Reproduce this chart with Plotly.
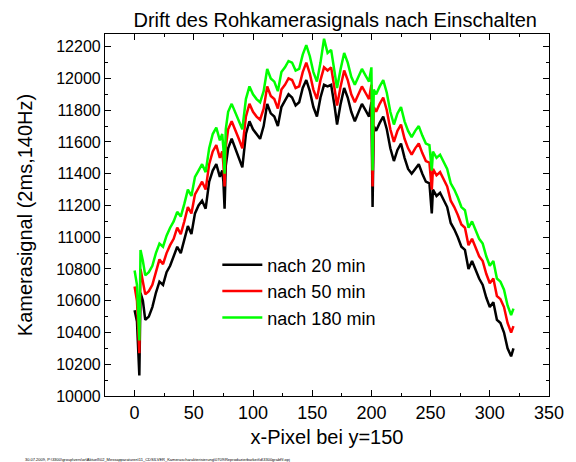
import plotly.graph_objects as go

x_pixel = [0, 2, 4, 5, 7, 9, 12, 15, 18, 21, 24, 27, 30, 33, 36, 39, 42, 45, 48, 51,
           54, 57, 60, 63, 66, 69, 72, 74, 75, 76, 77, 79, 82, 85, 88, 91, 94, 97, 100, 103,
           106, 109, 112, 115, 118, 121, 124, 127, 130, 133, 136, 139, 142, 145, 148, 151, 154, 157, 160, 163,
           166, 169, 171, 174, 177, 180, 183, 186, 189, 192, 195, 198, 200, 201, 202, 204, 207, 210, 213, 216,
           219, 222, 225, 228, 231, 234, 237, 240, 243, 246, 249, 251, 252, 255, 258, 261, 264, 267, 270, 273,
           276, 279, 282, 285, 288, 291, 294, 297, 300, 303, 306, 309, 312, 315, 318, 320]

nach_20 = [10540, 10470, 10130, 10650, 10600, 10480, 10500, 10560, 10650, 10720, 10700, 10780, 10820, 10880, 10940, 10900, 10980, 11070, 11020, 11150,
           11200, 11230, 11180, 11350, 11420, 11460, 11380, 11420, 11350, 11180, 11450, 11560, 11620, 11560, 11500, 11440, 11650, 11730, 11680, 11650,
           11620, 11700, 11840, 11780, 11760, 11700, 11820, 11860, 11900, 11880, 11830, 11850, 11940, 11990, 11920, 11820, 11760, 11880, 11960, 11950,
           11960, 11820, 11710, 11840, 11940, 11880, 11790, 11730, 11790, 11840, 11800, 11760, 11850, 11190, 11700, 11670, 11720, 11760, 11680, 11560,
           11480, 11550, 11590, 11500, 11430, 11400, 11430, 11460, 11400, 11350, 11340, 11150, 11300, 11260, 11280, 11230, 11190, 11090, 11050, 11000,
           10940, 10920, 10800, 10850, 10790, 10740, 10700, 10620, 10560, 10590, 10480, 10460, 10400, 10300, 10250, 10300]

nach_50 = [10690, 10600, 10270, 10800, 10720, 10640, 10660, 10700, 10780, 10860, 10830, 10900, 10950, 10990, 11060, 11020, 11100, 11190, 11150, 11270,
           11310, 11350, 11300, 11460, 11540, 11580, 11500, 11540, 11460, 11320, 11570, 11680, 11730, 11680, 11620, 11560, 11760, 11840, 11790, 11760,
           11740, 11810, 11950, 11890, 11870, 11810, 11930, 11960, 12000, 11990, 11940, 11950, 12040, 12100, 12030, 11930, 11870, 11990, 12070, 12050,
           12070, 11930, 11830, 11950, 12050, 11990, 11900, 11850, 11900, 11950, 11910, 11870, 11960, 11320, 11820, 11790, 11840, 11880, 11800, 11680,
           11600, 11670, 11710, 11620, 11560, 11520, 11560, 11590, 11530, 11480, 11470, 11300, 11430, 11390, 11410, 11360, 11320, 11230, 11190, 11140,
           11080, 11060, 10950, 10990, 10940, 10880, 10850, 10770, 10710, 10740, 10630, 10610, 10560, 10460, 10400, 10440]

nach_180 = [10790, 10700, 10350, 10920, 10850, 10760, 10780, 10820, 10900, 10960, 10940, 11010, 11060, 11100, 11160, 11130, 11210, 11300, 11260, 11380,
            11420, 11460, 11410, 11560, 11650, 11690, 11610, 11650, 11560, 11400, 11680, 11790, 11840, 11790, 11730, 11680, 11870, 11950, 11900, 11870,
            11850, 11920, 12060, 12000, 11980, 11920, 12040, 12070, 12110, 12100, 12050, 12060, 12150, 12210, 12140, 12040, 11980, 12100, 12250, 12160,
            12180, 12040, 11940, 12060, 12160, 12100, 12010, 11960, 12010, 12060, 12020, 11980, 12070, 11420, 11930, 11900, 11950, 11990, 11910, 11790,
            11710, 11780, 11820, 11730, 11670, 11630, 11670, 11700, 11640, 11590, 11580, 11420, 11540, 11500, 11520, 11470, 11430, 11340, 11300, 11250,
            11190, 11170, 11060, 11100, 11050, 10990, 10960, 10880, 10820, 10850, 10740, 10720, 10670, 10570, 10510, 10550]

series_names = ["nach 20 min", "nach 50 min", "nach 180 min"]
series_colors = ["#000000", "#ff0000", "#00ff00"]

x_ticks = [0, 50, 100, 150, 200, 250, 300, 350]
y_ticks = [10000, 10200, 10400, 10600, 10800, 11000, 11200, 11400, 11600, 11800, 12000, 12200]

font_family = "Liberation Sans, Arial, sans-serif"

fig = go.Figure()
for name, ys, col in zip(series_names, [nach_20, nach_50, nach_180], series_colors):
    fig.add_trace(go.Scatter(x=x_pixel, y=ys, mode="lines", name=name,
                             line=dict(color=col, width=2.5)))

axis_common = dict(
    showline=True, linecolor="black", linewidth=1.2, mirror="allticks",
    ticks="inside", ticklen=6, tickwidth=1, tickcolor="black",
    showgrid=False, zeroline=False,
)

fig.update_layout(
    width=576, height=462,
    margin=dict(l=105, r=18, t=34, b=66),
    paper_bgcolor="white", plot_bgcolor="white",
    font=dict(family=font_family, color="black"),
    title=dict(text="Drift des Rohkamerasignals nach Einschalten",
               font=dict(family=font_family, size=20, color="black"),
               x=0.582, xanchor="center", y=0.957, yanchor="middle"),
    xaxis=dict(range=[-25, 350], tickmode="array", tickvals=x_ticks,
               ticktext=[str(v) for v in x_ticks],
               minor=dict(ticks="inside", ticklen=3, dtick=25, tick0=0, tickcolor="black"),
               tickfont=dict(family=font_family, size=18, color="black"),
               title=dict(text="x-Pixel bei y=150", font=dict(family=font_family, size=20), standoff=8),
               **axis_common),
    yaxis=dict(range=[10000, 12280], tickmode="array", tickvals=y_ticks,
               ticktext=[str(v) for v in y_ticks],
               minor=dict(ticks="inside", ticklen=3, dtick=100, tick0=10000, tickcolor="black"),
               tickfont=dict(family=font_family, size=16, color="black"),
               title=dict(text="Kamerasignal (2ms,140Hz)", font=dict(family=font_family, size=20), standoff=18),
               **axis_common),
    legend=dict(x=0.253, y=0.413, xanchor="left", yanchor="top",
                bgcolor="rgba(0,0,0,0)", borderwidth=0,
                font=dict(family=font_family, size=18, color="black"),
                tracegroupgap=0, itemwidth=40),
    showlegend=True,
)

fig.add_annotation(
    text="30.07.2009, P:\\3300\\group\\vers\\or\\Aktuell\\02_Messapparaturen\\11_CDSILVER_Kamerascharakterisierung\\0709\\Reproduzierbarkeit\\d\\3300grabf\\f.opj",
    xref="paper", yref="paper", x=-0.185, y=-0.175, xanchor="left", yanchor="middle",
    showarrow=False, font=dict(family=font_family, size=4, color="black"))

fig.write_html("out.html")
